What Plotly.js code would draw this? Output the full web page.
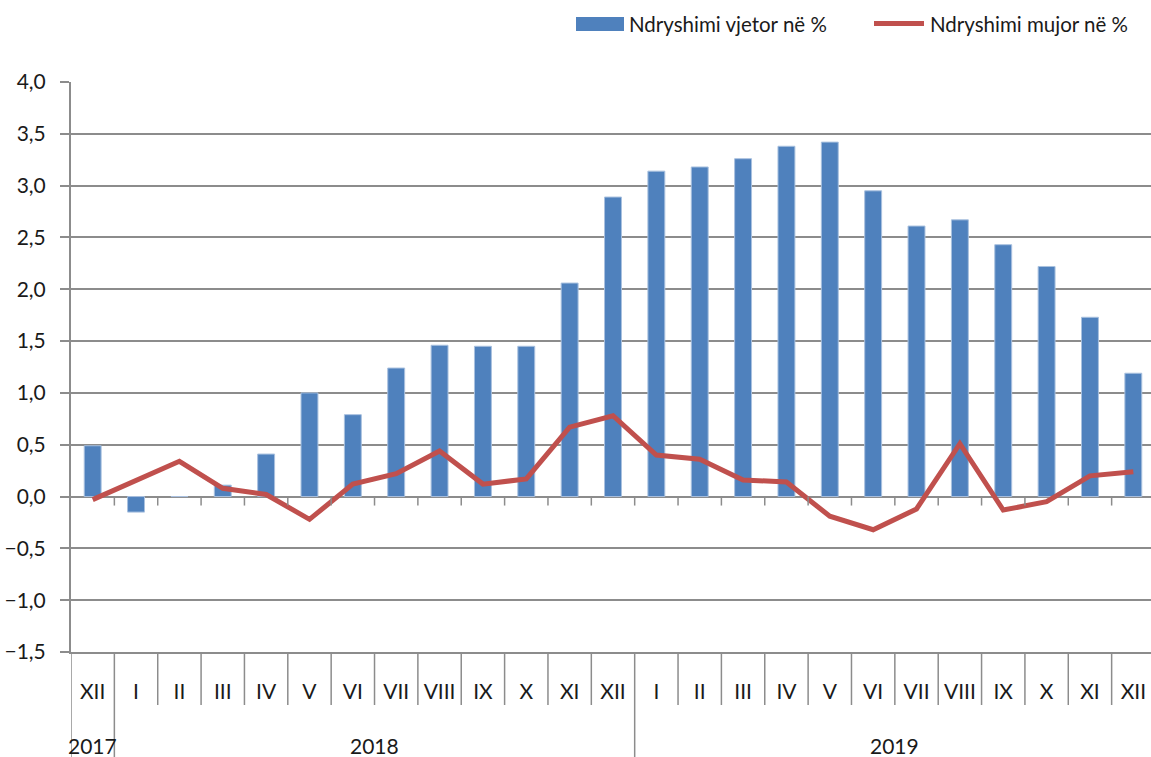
<!DOCTYPE html>
<html>
<head>
<meta charset="utf-8">
<script src="https://cdn.plot.ly/plotly-3.0.1.min.js"></script>
<style>html,body{margin:0;padding:0;background:#fff;}#chart{width:1151px;height:757px;}</style>
</head>
<body>
<div id="chart"></div>
<script>
// ---- data ----
const months = ['XII','I','II','III','IV','V','VI','VII','VIII','IX','X','XI','XII',
                'I','II','III','IV','V','VI','VII','VIII','IX','X','XI','XII'];
const yearOfMonth = ['2017','2018','2018','2018','2018','2018','2018','2018','2018','2018','2018','2018','2018',
                     '2019','2019','2019','2019','2019','2019','2019','2019','2019','2019','2019','2019'];
const annualChange = [0.49, -0.15, 0.00, 0.11, 0.41, 1.00, 0.79, 1.24, 1.46, 1.45, 1.45, 2.06, 2.89,
                      3.14, 3.18, 3.26, 3.38, 3.42, 2.95, 2.61, 2.67, 2.43, 2.22, 1.73, 1.19];
const monthlyChange = [-0.03, 0.16, 0.34, 0.08, 0.02, -0.22, 0.12, 0.22, 0.44, 0.12, 0.17, 0.67, 0.78,
                       0.40, 0.36, 0.16, 0.14, -0.19, -0.32, -0.12, 0.51, -0.13, -0.05, 0.20, 0.24];
const seriesNames = ['Ndryshimi vjetor në %', 'Ndryshimi mujor në %'];
const yTicks = [-1.5, -1.0, -0.5, 0.0, 0.5, 1.0, 1.5, 2.0, 2.5, 3.0, 3.5, 4.0];

// ---- styling ----
const FONT = 'Lato, "Open Sans", sans-serif';
const BLUE = '#4F81BD';
const RED = '#C0504D';
const GRID = '#8c8c8c';
const TXT = '#1a1a1a';

const idx = months.map((_, i) => i);

const traces = [
  {
    type: 'bar', x: idx, y: annualChange, name: seriesNames[0],
    width: 0.39,
    marker: {color: BLUE, line: {color: '#a9c1df', width: 1}},
    showlegend: false, hoverinfo: 'y'
  },
  {
    type: 'scatter', mode: 'lines', x: idx, y: monthlyChange, name: seriesNames[1],
    line: {color: RED, width: 5, shape: 'linear'},
    showlegend: false, hoverinfo: 'y'
  }
];

// plot geometry helpers (paper coords)
const L = 71, T = 82, PW = 1080, PH = 570;
const px2x = p => (p - L) / PW;
const py2y = p => (T + PH - p) / PH;

const shapes = [];
const annotations = [];

// category dividers below the axis
for (let i = 0; i <= months.length; i++) {
  const b = i - 0.5;
  const isYearBoundary = (i === 0) || (i < months.length && yearOfMonth[i] !== yearOfMonth[i - 1]);
  shapes.push({type: 'line', xref: 'x', yref: 'paper', x0: b, x1: b, y0: 0, y1: isYearBoundary ? py2y(757) : py2y(705),
               line: {color: GRID, width: 1.5}, layer: 'above'});
  // small tick marks at zero line
  if (i > 0 && i < months.length) {
    shapes.push({type: 'line', xref: 'x', yref: 'y', ysizemode: 'pixel', yanchor: 0, x0: b, x1: b, y0: 0, y1: -9,
                 line: {color: GRID, width: 1.5}, layer: 'above'});
  }
}

// year labels
const years = [...new Set(yearOfMonth)];
years.forEach(yr => {
  const first = yearOfMonth.indexOf(yr), last = yearOfMonth.lastIndexOf(yr);
  annotations.push({xref: 'x', yref: 'paper', x: (first + last) / 2, y: py2y(745), text: yr, showarrow: false,
                    xanchor: 'center', yanchor: 'middle', font: {family: FONT, size: 21, color: TXT}});
});

// legend (custom)
shapes.push({type: 'rect', xref: 'paper', yref: 'paper', x0: px2x(576), x1: px2x(624), y0: py2y(31), y1: py2y(17),
             fillcolor: BLUE, line: {width: 0}});
annotations.push({xref: 'paper', yref: 'paper', x: px2x(627), y: py2y(24), text: seriesNames[0], showarrow: false,
                  xanchor: 'left', yanchor: 'middle', font: {family: FONT, size: 20.5, color: TXT}});
shapes.push({type: 'line', xref: 'paper', yref: 'paper', x0: px2x(874), x1: px2x(924), y0: py2y(23.5), y1: py2y(23.5),
             line: {color: RED, width: 5}});
annotations.push({xref: 'paper', yref: 'paper', x: px2x(928), y: py2y(24), text: seriesNames[1], showarrow: false,
                  xanchor: 'left', yanchor: 'middle', font: {family: FONT, size: 20.5, color: TXT}});

const layout = {
  width: 1151, height: 757,
  margin: {l: L, r: 0, t: T, b: 757 - T - PH, pad: 0},
  paper_bgcolor: '#fff', plot_bgcolor: '#fff',
  separators: ',.',
  font: {family: FONT, size: 21, color: TXT},
  showlegend: false,
  bargap: 0.6,
  xaxis: {
    range: [-0.5, -0.5 + (1151 - L) / 43.36],
    tickmode: 'array', tickvals: idx, ticktext: months,
    ticks: '', showgrid: false, zeroline: false,
    showline: true, linecolor: GRID, linewidth: 2,
    ticklabelstandoff: 20,
    tickfont: {family: FONT, size: 21, color: TXT},
    fixedrange: true
  },
  yaxis: {
    range: [-1.5, 4.0],
    tickmode: 'array', tickvals: yTicks, tickformat: '.1f',
    showgrid: true, gridcolor: GRID, gridwidth: 2,
    zeroline: true, zerolinecolor: GRID, zerolinewidth: 2,
    showline: true, linecolor: GRID, linewidth: 2,
    ticks: 'outside', ticklen: 9, tickcolor: GRID, tickwidth: 2,
    ticklabelstandoff: 10,
    tickfont: {family: FONT, size: 21, color: TXT},
    fixedrange: true
  },
  shapes: shapes,
  annotations: annotations
};

Plotly.newPlot('chart', traces, layout, {displayModeBar: false, staticPlot: true});
</script>
</body>
</html>
